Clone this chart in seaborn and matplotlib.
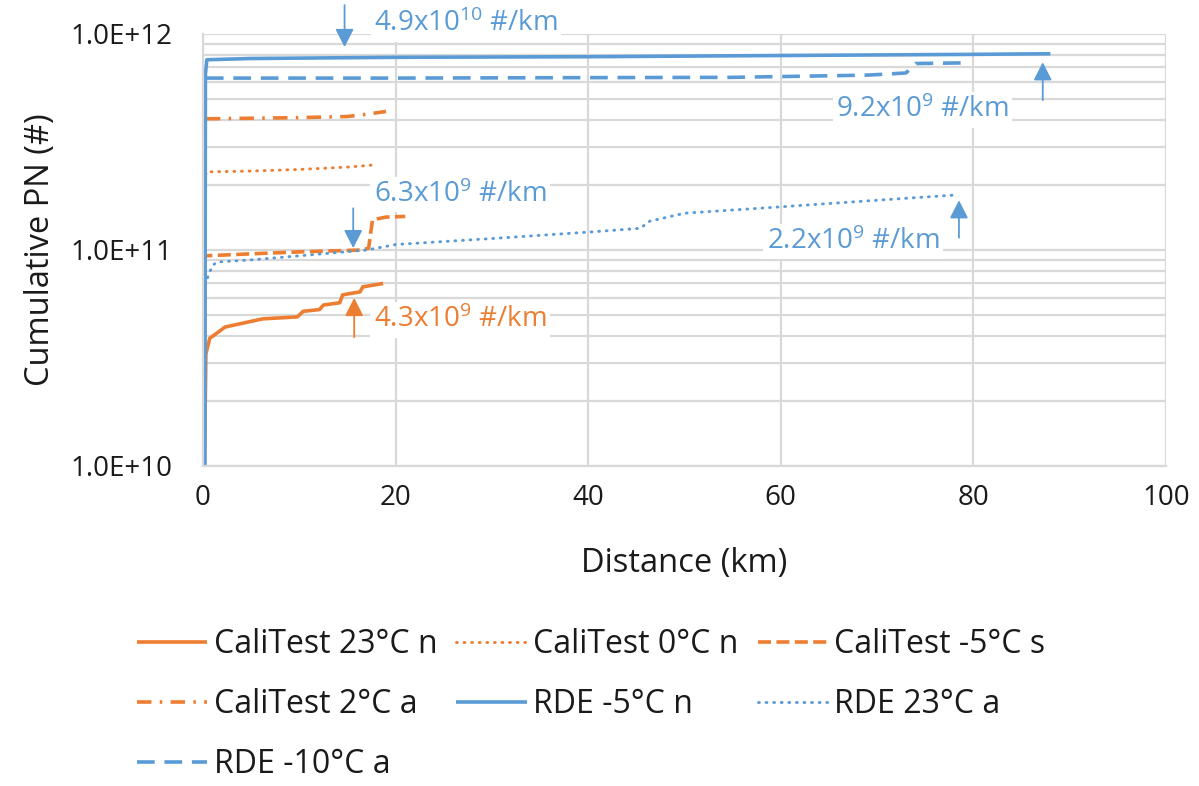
import numpy as np
import pandas as pd
import matplotlib
matplotlib.use("Agg")
import matplotlib.pyplot as plt
import seaborn as sns
from matplotlib.ticker import FixedLocator, FuncFormatter, LogLocator, NullFormatter

# ---------------- data ----------------
cali23_x = [0.15, 0.3, 0.7, 2.3, 6.2, 9.8, 10.4, 12.1, 12.5, 14.2, 14.5, 16.3, 16.6, 18.7]
cali23_y = [1.0e10, 3.3e10, 3.9e10, 4.4e10, 4.8e10, 4.9e10, 5.2e10, 5.3e10, 5.56e10, 5.7e10,
            6.2e10, 6.4e10, 6.75e10, 7.0e10]

cali0_x = [0.05, 0.3, 5, 10, 15, 18]
cali0_y = [1.0e11, 2.3e11, 2.32e11, 2.36e11, 2.42e11, 2.48e11]

calim5_x = [0.1, 0.3, 5, 10, 16.5, 17.2, 17.6, 19, 21]
calim5_y = [8.8e10, 9.4e10, 9.6e10, 9.8e10, 1.0e11, 1.02e11, 1.38e11, 1.42e11, 1.43e11]

cali2_x = [0.3, 10, 15, 17, 19]
cali2_y = [4.05e11, 4.1e11, 4.15e11, 4.25e11, 4.38e11]

rdem5_x = [0.2, 0.25, 0.4, 5, 20, 40, 60, 80, 88]
rdem5_y = [1.0e10, 6.5e11, 7.6e11, 7.7e11, 7.8e11, 7.85e11, 7.95e11, 8.05e11, 8.1e11]

rde23_x = [0.2, 0.5, 1.0, 1.5, 5, 10, 17, 20, 30, 40, 45.4, 46.4, 50, 59.6, 70, 78.4]
rde23_y = [6.9e10, 7.5e10, 8.5e10, 8.8e10, 9.0e10, 9.4e10, 1.0e11, 1.06e11, 1.13e11, 1.21e11,
           1.26e11, 1.36e11, 1.48e11, 1.58e11, 1.7e11, 1.8e11]

rdem10_x = [0.3, 20, 40, 55, 69, 73, 74, 79]
rdem10_y = [6.25e11, 6.25e11, 6.28e11, 6.3e11, 6.45e11, 6.6e11, 7.3e11, 7.35e11]

series_names = ["CaliTest 23°C n", "CaliTest 0°C n", "CaliTest -5°C s", "CaliTest 2°C a",
                "RDE -5°C n", "RDE 23°C a", "RDE -10°C a"]

annot_texts = ["4.9x10$^{10}$ #/km", "9.2x10$^{9}$ #/km", "6.3x10$^{9}$ #/km",
               "2.2x10$^{9}$ #/km", "4.3x10$^{9}$ #/km"]

x_ticks = [0, 20, 40, 60, 80, 100]
y_ticks = [1e10, 1e11, 1e12]

# ---------------- style ----------------
ORANGE = "#ED7D31"
BLUE = "#5B9BD5"
GRID = "#D9D9D9"

sns.set_theme(style="white")
plt.rcParams["font.family"] = ["Open Sans", "DejaVu Sans"]
plt.rcParams["mathtext.fontset"] = "custom"
plt.rcParams["mathtext.rm"] = "Open Sans"
plt.rcParams["mathtext.it"] = "Open Sans"
plt.rcParams["mathtext.default"] = "regular"

fig = plt.figure(figsize=(11.99, 7.86), dpi=100)
ax = fig.add_axes([203 / 1199, 1 - 466 / 786, (1166 - 203) / 1199, (466 - 34) / 786])

DOT = (0, (0.3, 2.3))
styles = [
    (cali23_x, cali23_y, ORANGE, 2.6, "-"),
    (cali0_x, cali0_y, ORANGE, 2.1, DOT),
    (calim5_x, calim5_y, ORANGE, 2.6, (0, (3.6, 1.5))),
    (cali2_x, cali2_y, ORANGE, 2.6, (0, (4.0, 2.3, 0.7, 2.3))),
    (rdem5_x, rdem5_y, BLUE, 2.6, "-"),
    (rde23_x, rde23_y, BLUE, 2.1, DOT),
    (rdem10_x, rdem10_y, BLUE, 2.6, (0, (4.9, 2.7))),
]

handles = []
for name, (xs, ys, col, lw, ls) in zip(series_names, styles):
    df = pd.DataFrame({"x": xs, "y": ys})
    sns.lineplot(data=df, x="x", y="y", ax=ax, color=col, lw=lw, linestyle=ls,
                 estimator=None, sort=False, label=name, legend=False)
    ln = ax.lines[-1]
    ln.set_dash_capstyle("round" if ls is DOT else "butt")
    ln.set_solid_capstyle("butt")
    handles.append(ln)

ax.set_yscale("log")
ax.set_xlim(0, 100)
ax.set_ylim(1e10, 1e12)
ax.xaxis.set_major_locator(FixedLocator(x_ticks))
ax.yaxis.set_major_locator(FixedLocator(y_ticks))
ax.yaxis.set_minor_locator(LogLocator(base=10, subs=np.arange(2, 10)))
ax.yaxis.set_minor_formatter(NullFormatter())
ax.yaxis.set_major_formatter(FuncFormatter(lambda v, p: f"{v:.1E}"))
ax.grid(True, which="major", axis="both", color=GRID, lw=1.6)
ax.grid(True, which="minor", axis="y", color=GRID, lw=1.6)
ax.set_axisbelow(True)
ax.tick_params(axis="both", which="both", length=0, labelsize=20, colors="#1a1a1a")
ax.tick_params(axis="y", pad=22)
ax.tick_params(axis="x", pad=13)
for s in ["top", "right"]:
    ax.spines[s].set_visible(False)
for s in ["left", "bottom"]:
    ax.spines[s].set_color(GRID)
    ax.spines[s].set_linewidth(1.6)

ax.set_xlabel("Distance (km)", fontsize=23.5, color="#1a1a1a", labelpad=25)
ax.set_ylabel("Cumulative PN (#)", fontsize=23.5, color="#1a1a1a", labelpad=10)

# ---------------- annotations ----------------
box = dict(boxstyle="square,pad=0.12", fc="white", ec="none")
arrow_kw = dict(arrowstyle="-|>,head_length=0.55,head_width=0.28", lw=1.3,
                shrinkA=0, shrinkB=0, mutation_scale=20)
annots = [
    # text, text pos, arrow tail, arrow tip, color
    (annot_texts[0], (27.3, 1.11e12), (14.7, 1.36e12), (14.7, 8.7e11), BLUE),
    (annot_texts[1], (74.7, 4.45e11), (87.2, 4.94e11), (87.2, 7.4e11), BLUE),
    (annot_texts[2], (26.7, 1.8e11), (15.6, 1.56e11), (15.6, 1.02e11), BLUE),
    (annot_texts[3], (67.5, 1.09e11), (78.5, 1.14e11), (78.5, 1.70e11), BLUE),
    (annot_texts[4], (26.7, 4.74e10), (15.7, 3.95e10), (15.7, 6.0e10), ORANGE),
]
for txt, tpos, tail, tip, col in annots:
    ax.text(tpos[0], tpos[1], txt, color=col, fontsize=20, ha="center", va="center",
            bbox=box, zorder=5, clip_on=False)
    ax.annotate("", xy=tip, xytext=tail, arrowprops=dict(color=col, **arrow_kw),
                annotation_clip=False, zorder=6)

# ---------------- legend ----------------
order = [0, 3, 6, 1, 4, 2, 5]
leg = fig.legend([handles[i] for i in order], [series_names[i] for i in order],
                 loc="upper center", bbox_to_anchor=(0.493, 1 - 628 / 786), ncol=3,
                 frameon=False, fontsize=23, handlelength=2.2, handletextpad=0.2,
                 columnspacing=0.6, labelspacing=0.85, borderaxespad=0, borderpad=0)
for t in leg.get_texts():
    t.set_color("#1a1a1a")

fig.savefig("out.png", dpi=100)
